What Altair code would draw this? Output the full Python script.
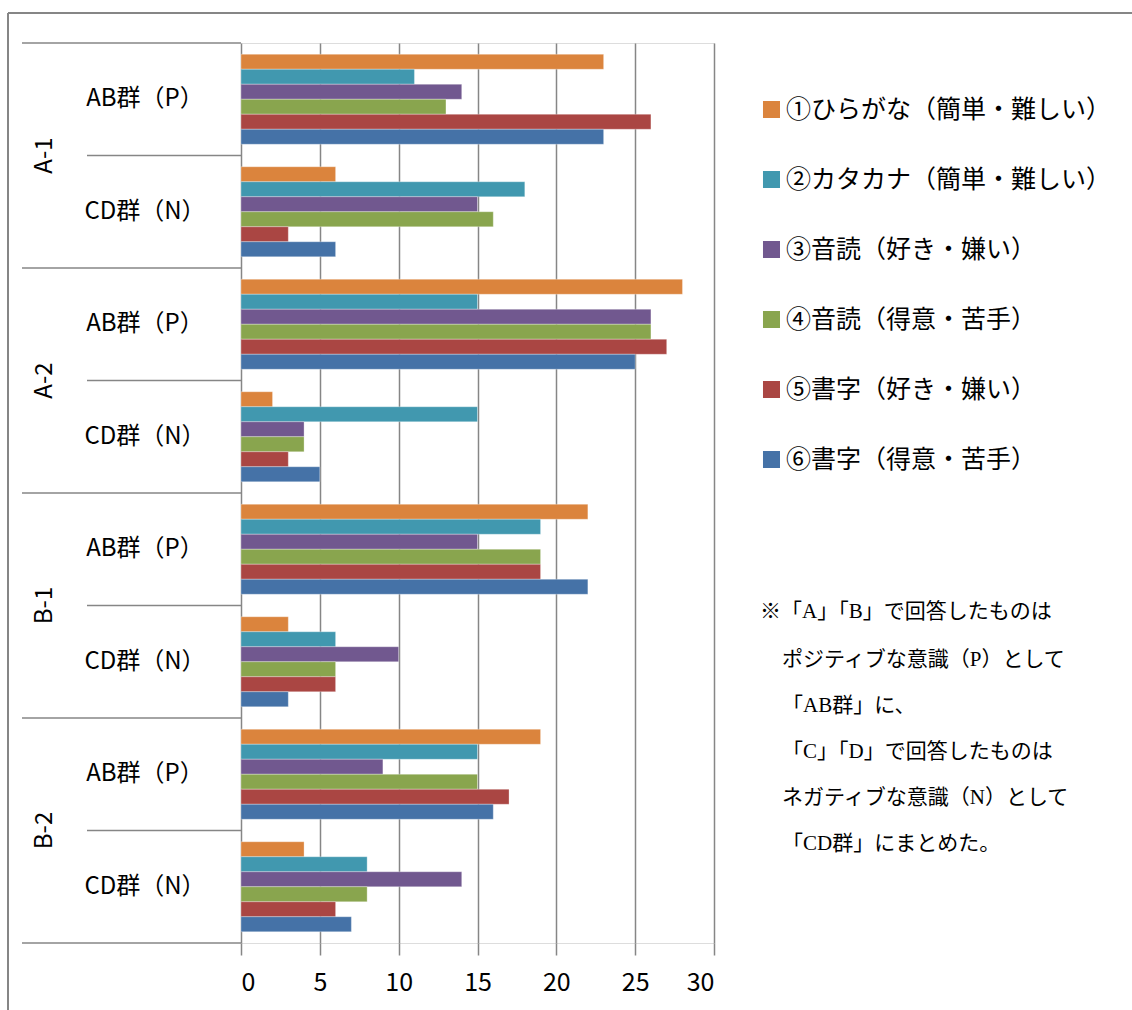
import altair as alt
import pandas as pd

sections = ["A-1", "A-2", "B-1", "B-2"]
groups = ["AB群（P）", "CD群（N）"]
series = [
    "①ひらがな（簡単・難しい）",
    "②カタカナ（簡単・難しい）",
    "③音読（好き・嫌い）",
    "④音読（得意・苦手）",
    "⑤書字（好き・嫌い）",
    "⑥書字（得意・苦手）",
]
colors = ["#DB843D", "#4198AF", "#71588F", "#89A54E", "#AA4643", "#4572A7"]
# order: A-1 AB, A-1 CD, A-2 AB, A-2 CD, B-1 AB, B-1 CD, B-2 AB, B-2 CD
s1 = [23, 6, 28, 2, 22, 3, 19, 4]
s2 = [11, 18, 15, 15, 19, 6, 15, 8]
s3 = [14, 15, 26, 4, 15, 10, 9, 14]
s4 = [13, 16, 26, 4, 19, 6, 15, 8]
s5 = [26, 3, 27, 3, 19, 6, 17, 6]
s6 = [23, 6, 25, 5, 22, 3, 16, 7]
xticks = [0, 5, 10, 15, 20, 25, 30]
note_first = ["※「A」「B」で回答したものは"]
note_rest = [
    "ポジティブな意識（P）として",
    "「AB群」に、",
    "「C」「D」で回答したものは",
    "ネガティブな意識（N）として",
    "「CD群」にまとめた。",
]

cats = [f"{s}|{g}" for s in sections for g in groups]
rows = []
for si, vals in enumerate([s1, s2, s3, s4, s5, s6]):
    for ci, v in enumerate(vals):
        rows.append({"cat": cats[ci], "series": series[si], "value": v})
df = pd.DataFrame(rows)

lab_df = pd.DataFrame({"cat": cats, "label": [g for s in sections for g in groups],
                       "sec": [s for s in sections for g in groups],
                       "grp": [gi for s in sections for gi in range(2)]})

yscale = alt.Scale(domain=cats, paddingInner=0, paddingOuter=0)
FONT = "Noto Sans CJK JP"
GRAY = "#868686"

bars = alt.Chart(df).mark_bar(stroke="white", strokeWidth=0.6, strokeOpacity=0.5).encode(
    x=alt.X("value:Q", scale=alt.Scale(domain=[0, 30], nice=False),
            axis=alt.Axis(values=xticks, title=None, grid=True, gridColor=GRAY, gridWidth=1.5,
                          domain=False, tickColor=GRAY, tickWidth=1.5, tickSize=12,
                          labelFontSize=25, labelFont=FONT, labelColor="black", labelPadding=15)),
    y=alt.Y("cat:N", scale=yscale, axis=None),
    yOffset=alt.YOffset("series:N", scale=alt.Scale(domain=series, paddingInner=0, paddingOuter=0.75)),
    color=alt.Color("series:N", scale=alt.Scale(domain=series, range=colors),
                    legend=alt.Legend(title=None, orient="none", legendX=518, legendY=54,
                                      symbolType="square", symbolSize=290, symbolStrokeWidth=0,
                                      labelFontSize=25, labelFont=FONT, labelColor="black",
                                      labelLimit=500, rowPadding=44, labelOffset=2, padding=0)),
)

inner_labels = alt.Chart(lab_df).mark_text(fontSize=24, font=FONT, color="black", align="center",
                                           baseline="middle").encode(
    y=alt.Y("cat:N", scale=yscale, axis=None),
    x=alt.value(-96),
    text="label:N",
)

outer_labels = alt.Chart(lab_df[lab_df.grp == 0]).mark_text(fontSize=24, font=FONT, color="black",
                                                            angle=270, align="center",
                                                            baseline="middle").encode(
    y=alt.Y("cat:N", scale=yscale, axis=None, bandPosition=1),
    x=alt.value(-196),
    text="sec:N",
)

outer_rules = alt.Chart(lab_df[lab_df.grp == 0]).mark_rule(color=GRAY, strokeWidth=1.5).encode(
    y=alt.Y("cat:N", scale=yscale, axis=None, bandPosition=0),
    x=alt.value(-219), x2=alt.value(0),
)
inner_rules = alt.Chart(lab_df[lab_df.grp == 1]).mark_rule(color=GRAY, strokeWidth=1.5).encode(
    y=alt.Y("cat:N", scale=yscale, axis=None, bandPosition=0),
    x=alt.value(-154), x2=alt.value(0),
)
one = pd.DataFrame({"a": [0]})
bottom_rule = alt.Chart(one).mark_rule(color=GRAY, strokeWidth=1.5).encode(
    y=alt.value(900), x=alt.value(-219), x2=alt.value(0))
border_left = alt.Chart(one).mark_rule(color=GRAY, strokeWidth=2).encode(
    x=alt.value(-233), y=alt.value(-30), y2=alt.value(1000))
border_top = alt.Chart(one).mark_rule(color=GRAY, strokeWidth=2).encode(
    y=alt.value(-30), x=alt.value(-233), x2=alt.value(900))

NOTE_FONT = "Liberation Serif, Noto Sans CJK JP"
note1 = alt.Chart(one).mark_text(text=note_first, fontSize=21, font=NOTE_FONT,
                                 color="black", align="left", baseline="middle").encode(
    x=alt.value(519), y=alt.value(569))
note2 = alt.Chart(one).mark_text(text=note_rest, fontSize=21, font=NOTE_FONT,
                                 color="black", align="left", baseline="middle",
                                 lineHeight=46).encode(
    x=alt.value(541), y=alt.value(617))

chart = alt.layer(bars, inner_labels, outer_labels, outer_rules, inner_rules, bottom_rule,
                  border_left, border_top, note1, note2).properties(
    width=473, height=900,
    autosize=alt.AutoSizeParams(type="none"),
    padding={"left": 241, "top": 43, "right": 418, "bottom": 67},
).configure_view(stroke=None).configure(background="white")

chart.save("out.html", embed_options={"renderer": "svg", "actions": False})
